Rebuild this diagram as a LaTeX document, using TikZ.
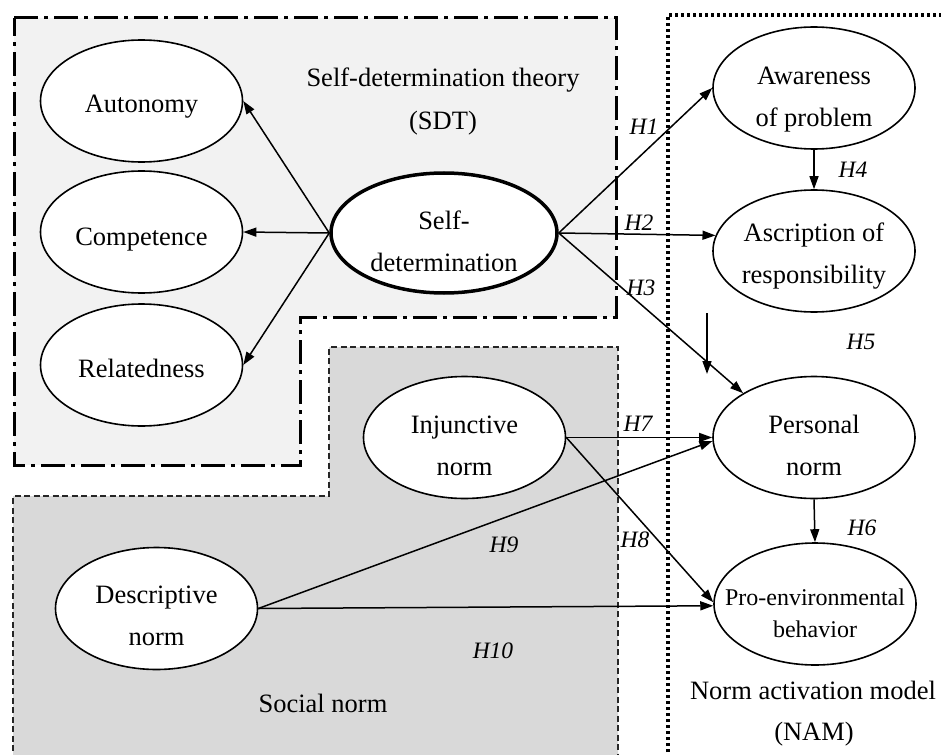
\documentclass[tikz,border=0pt]{standalone}
\usepackage{fontspec}
\setmainfont{Liberation Serif}
\usetikzlibrary{shapes.geometric,arrows.meta}
\definecolor{sdtfill}{HTML}{F2F2F2}
\definecolor{socfill}{HTML}{D9D9D9}
\newcommand{\etx}[2]{\makebox[0pt]{\raisebox{#1}[0pt][0pt]{\begin{tabular}[t]{@{}c@{}}#2\end{tabular}}}}
\begin{document}
\begin{tikzpicture}[x=1pt,y=-1pt,
  ell/.style={ellipse, draw, line width=1.6pt, fill=white, minimum width=202pt,
    minimum height=122pt, inner sep=0pt, font=\fontsize{26.5}{42}\selectfont},
  thickell/.style={ell, line width=3.5pt, minimum width=226pt, minimum height=120pt},
  smallell/.style={ell, font=\fontsize{24}{32}\selectfont},
  arr/.style={line width=1.5pt, -{Triangle[length=13pt,width=9pt]}},
  hyp/.style={font=\fontsize{23.5}{28}\selectfont\itshape, inner sep=0pt, anchor=base},
  ttl/.style={font=\fontsize{26.5}{42}\selectfont, inner sep=0pt, anchor=base},
  sdtline/.style={line width=3pt, dash pattern=on 24pt off 6pt on 4pt off 6pt},
  socline/.style={line width=2.2pt, black!85, dash pattern=on 6pt off 3.5pt},
  namline/.style={line width=3.5pt, dash pattern=on 3pt off 3pt}
]
\useasboundingbox (0,0) rectangle (941,754);

% regions
\fill[sdtfill] (14,18) -- (616,18) -- (616,317) -- (300,317) -- (300,465) -- (14,465) -- cycle;
\draw[sdtline] (14,18) -- (616,18) -- (616,317) -- (300,317) -- (300,465) -- (14,465) -- cycle;
\fill[socfill] (13,770) -- (13,496) -- (329,496) -- (329,347) -- (618,347) -- (618,770) -- cycle;
\draw[socline] (13,770) -- (13,496) -- (329,496) -- (329,347) -- (618,347) -- (618,770);
\draw[namline] (668,770) -- (668,15) -- (950,15);

% region titles
\node[ttl] (sdtA) at (443,87) {Self-determination theory};
\node[ttl] (sdtB) at (443,130) {(SDT)};
\node[ttl] (socT) at (323,712) {Social norm};
\node[ttl] (namA) at (813,699) {Norm activation model};
\node[ttl] (namB) at (814,740) {(NAM)};

% constructs
\node[ell] (aut) at (141.5,101) {\etx{-12pt}{Autonomy}};
\node[ell] (com) at (141.5,232) {\etx{-13pt}{Competence}};
\node[ell] (rel) at (141.5,365) {\etx{-12pt}{Relatedness}};
\node[thickell] (sd) at (444,233) {\etx{4pt}{Self-\\determination}};
\node[ell] (aw) at (814,88) {\etx{3pt}{Awareness\\of problem}};
\node[ell] (asc) at (814,251) {\etx{10pt}{Ascription of\\responsibility}};
\node[ell] (pn) at (814,437.5) {\etx{4.5pt}{Personal\\norm}};
\node[smallell] (pe) at (815,604) {\etx{-1pt}{Pro-environmental\\behavior}};
\node[ell] (inj) at (464.5,437.5) {\etx{4pt}{Injunctive\\norm}};
\node[ell] (des) at (156.5,608.5) {\etx{5pt}{Descriptive\\norm}};

% connectors
\draw[arr] (sd.west) -- (aut.east);
\draw[arr] (sd.west) -- (com.east);
\draw[arr] (sd.west) -- (rel.east);
\draw[arr] (sd.east) -- (aw.west);
\draw[arr] (sd.east) -- (asc.171);
\draw[arr] (sd.east) -- (pn.148);
\draw[arr] (aw.south) -- (asc.north);
\coordinate (h5a) at (707,313);
\coordinate (h5b) at (707,374);
\draw[arr] (h5a) -- (h5b);
\draw[arr] (pn.south) -- (pe.north);
\draw[arr] (inj.east) -- (pn.west);
\draw[arr] (inj.east) -- (pe.179);
\draw[arr] (des.east) -- (pn.182);
\draw[arr] (des.east) -- (pe.181);

% hypothesis labels
\node[hyp] (H1) at (644,135) {H1};
\node[hyp] (H2) at (639,230) {H2};
\node[hyp] (H3) at (641,295) {H3};
\node[hyp] (H4) at (853,178) {H4};
\node[hyp] (H5) at (861,349) {H5};
\node[hyp] (H6) at (862,535) {H6};
\node[hyp] (H7) at (638,431) {H7};
\node[hyp] (H8) at (635,547) {H8};
\node[hyp] (H9) at (504,552) {H9};
\node[hyp] (H10) at (493,658) {H10};
\end{tikzpicture}
\end{document}
